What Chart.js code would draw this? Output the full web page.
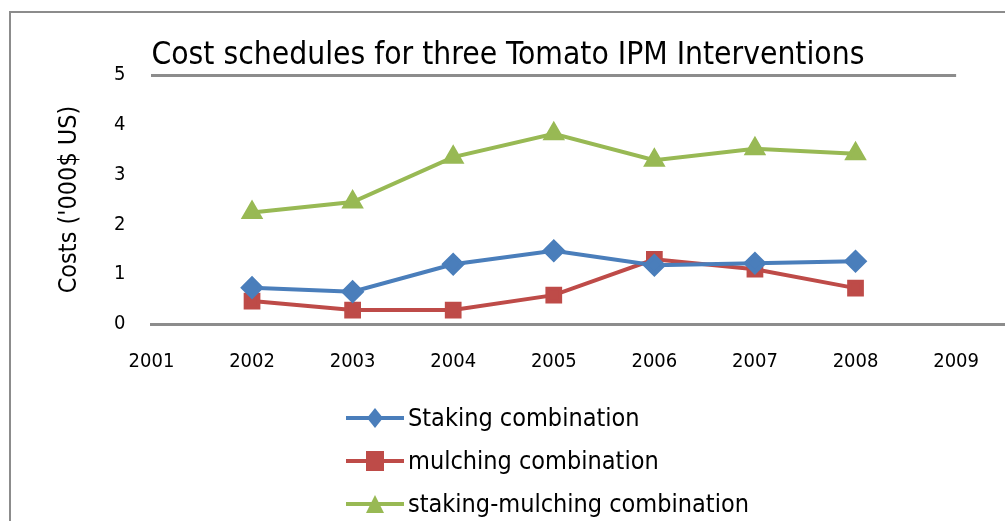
<!DOCTYPE html>
<html lang="en">
<head>
  <meta charset="UTF-8">
  <title>Cost schedules for three Tomato IPM Interventions</title>
  <script src="https://cdn.jsdelivr.net/npm/chart.js"></script>
  <style>
    body {
      margin: 0;
      background: #ffffff;
      font-family: 'Liberation Sans Narrow', 'DejaVu Sans Condensed', sans-serif;
    }
    .frame {
      position: absolute;
      left: 9px;
      top: 11px;
      width: 1100px;
      height: 600px;
      border-left: 2px solid #8c8c8c;
      border-top: 2px solid #8c8c8c;
    }
    .wrap {
      position: relative;
      width: 1005px;
      height: 521px;
      overflow: hidden;
    }
    canvas {
      position: absolute;
      left: 0;
      top: 0;
    }
    .legend {
      position: absolute;
      left: 346px;
      top: 396px;
    }
    .legend div {
      display: flex;
      align-items: center;
      height: 43px;
      font-size: 25px;
      color: #000;
    }
    .legend svg { margin-right: 4px; }
  </style>
</head>
<body>
<div class="wrap">
  <div class="frame"></div>
  <canvas id="costChart" width="1005" height="521"></canvas>
  <div class="legend" id="legend"></div>
</div>

<script>
  // data
  const years = [2002, 2003, 2004, 2005, 2006, 2007, 2008];
  const staking = [0.73, 0.65, 1.2, 1.47, 1.18, 1.22, 1.26];
  const mulching = [0.46, 0.28, 0.28, 0.58, 1.3, 1.1, 0.72];
  const stakingMulching = [2.24, 2.45, 3.35, 3.82, 3.29, 3.52, 3.42];
  const seriesNames = ['Staking combination', 'mulching combination', 'staking-mulching combination'];

  const colors = ['#4a7ebb', '#be4b48', '#98b954'];
  const markers = ['rectRot', 'rect', 'triangle'];
  const FONT = "'Liberation Sans Narrow', 'DejaVu Sans Condensed', sans-serif";

  const toPoints = vals => vals.map((v, i) => ({ x: years[i], y: v }));

  // title sits left-aligned on the top gridline; x axis line runs on to the edge
  const extrasPlugin = {
    id: 'extras',
    afterDraw(chart) {
      const { ctx, chartArea } = chart;
      ctx.save();
      ctx.font = '31.5px ' + FONT;
      ctx.fillStyle = '#000';
      ctx.textBaseline = 'bottom';
      ctx.fillText('Cost schedules for three Tomato IPM Interventions', chartArea.left, chartArea.top - 3);
      ctx.strokeStyle = '#8c8c8c';
      ctx.lineWidth = 3;
      ctx.beginPath();
      ctx.moveTo(chartArea.right, chartArea.bottom + 0.5);
      ctx.lineTo(chart.width, chartArea.bottom + 0.5);
      ctx.stroke();
      ctx.restore();
    }
  };

  new Chart(document.getElementById('costChart'), {
    type: 'line',
    data: {
      datasets: [staking, mulching, stakingMulching].map((vals, i) => ({
        label: seriesNames[i],
        data: toPoints(vals),
        borderColor: colors[i],
        backgroundColor: colors[i],
        borderWidth: 4,
        pointStyle: markers[i],
        pointRadius: 9,
        pointHoverRadius: 9,
        tension: 0
      }))
    },
    options: {
      responsive: false,
      animation: false,
      layout: { padding: { left: 50, right: 28, top: 75, bottom: 121 } },
      plugins: {
        legend: { display: false },
        tooltip: { enabled: false }
      },
      scales: {
        x: {
          type: 'linear',
          min: 2001,
          max: 2009,
          ticks: {
            stepSize: 1,
            padding: 26,
            color: '#000',
            font: { family: FONT, size: 20 },
            callback: v => String(v)
          },
          grid: { display: false, drawTicks: false },
          border: { color: '#8c8c8c', width: 3 }
        },
        y: {
          min: 0,
          max: 5,
          ticks: {
            stepSize: 1,
            padding: 26,
            color: '#000',
            font: { family: FONT, size: 20 }
          },
          grid: {
            drawTicks: false,
            color: c => c.tick && c.tick.value === 5 ? '#8c8c8c' : 'rgba(0,0,0,0)',
            lineWidth: 3
          },
          border: { display: false },
          title: {
            display: true,
            text: "Costs ('000$ US)",
            color: '#000',
            font: { family: FONT, size: 25 }
          }
        }
      }
    },
    plugins: [extrasPlugin]
  });

  // html legend: line with marker, like the original
  const legendEl = document.getElementById('legend');
  const shapes = [
    c => `<polygon points="29,3 37,13 29,23 21,13" fill="${c}"/>`,
    c => `<rect x="20" y="3" width="18" height="20" fill="${c}"/>`,
    c => `<polygon points="29,4 38,22 20,22" fill="${c}"/>`
  ];
  seriesNames.forEach((name, i) => {
    const row = document.createElement('div');
    row.innerHTML = `<svg width="58" height="26"><line x1="0" y1="13" x2="58" y2="13" stroke="${colors[i]}" stroke-width="4"/>${shapes[i](colors[i])}</svg><span>${name}</span>`;
    legendEl.appendChild(row);
  });
</script>
</body>
</html>
